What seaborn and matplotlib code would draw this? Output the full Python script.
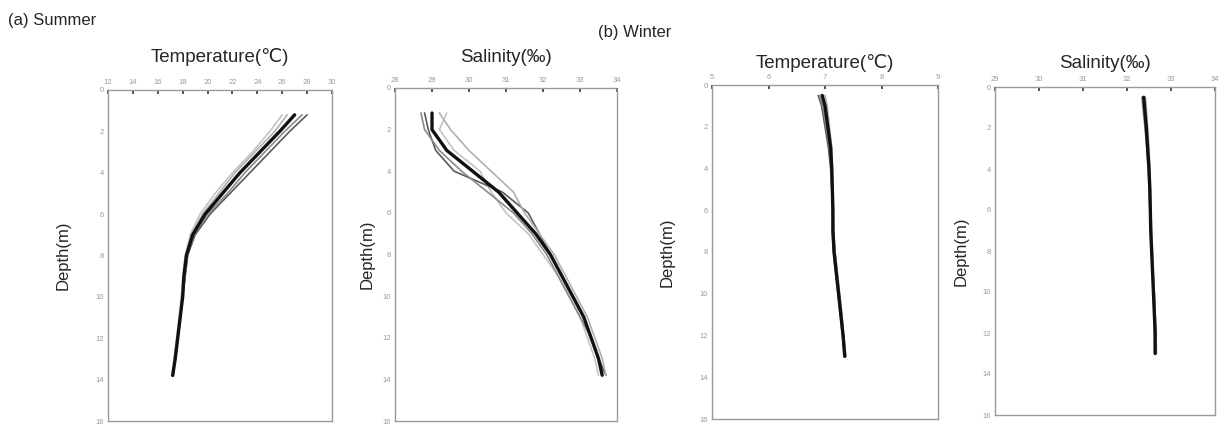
import matplotlib
matplotlib.use("Agg")
import matplotlib.pyplot as plt
import seaborn as sns
import pandas as pd
import numpy as np

# ---------------- data ----------------
depth_summer = [1.2, 2, 3, 4, 5, 6, 7, 8, 9, 10, 11, 12, 13, 13.8]
temp_summer_1 = [27.0, 25.8, 24.2, 22.6, 21.2, 19.8, 18.8, 18.3, 18.1, 18.0, 17.8, 17.6, 17.4, 17.2]
temp_summer_2 = [27.6, 26.2, 24.6, 23.0, 21.6, 20.0, 18.9, 18.4, 18.2, 18.0, 17.8, 17.6, 17.4, 17.2]
temp_summer_3 = [26.4, 25.4, 23.8, 22.2, 20.9, 19.6, 18.7, 18.3, 18.1, 17.9, 17.8, 17.6, 17.4, 17.2]
temp_summer_4 = [28.0, 26.6, 25.0, 23.4, 21.8, 20.2, 19.0, 18.4, 18.2, 18.0, 17.8, 17.6, 17.4, 17.2]
temp_summer_5 = [26.0, 25.0, 23.6, 22.0, 20.6, 19.4, 18.6, 18.2, 18.0, 17.9, 17.7, 17.5, 17.3, 17.1]

sal_summer_1 = [29.0, 29.0, 29.4, 30.1, 30.8, 31.3, 31.8, 32.2, 32.5, 32.8, 33.1, 33.3, 33.5, 33.6]
sal_summer_2 = [28.7, 28.8, 29.2, 29.8, 30.5, 31.2, 31.7, 32.1, 32.4, 32.7, 33.0, 33.3, 33.5, 33.6]
sal_summer_3 = [29.2, 29.5, 30.0, 30.6, 31.2, 31.5, 31.9, 32.3, 32.6, 32.9, 33.2, 33.4, 33.6, 33.7]
sal_summer_4 = [28.8, 28.9, 29.1, 29.6, 30.9, 31.6, 31.9, 32.2, 32.5, 32.8, 33.1, 33.3, 33.5, 33.7]
sal_summer_5 = [29.4, 29.2, 29.6, 30.3, 30.6, 31.0, 31.6, 32.0, 32.4, 32.7, 33.0, 33.2, 33.4, 33.5]

depth_winter = [0.5, 1, 2, 3, 4, 5, 6, 7, 8, 9, 10, 11, 12, 13]
temp_winter_1 = [6.95, 7.00, 7.05, 7.10, 7.12, 7.13, 7.14, 7.14, 7.16, 7.20, 7.24, 7.28, 7.32, 7.35]
temp_winter_2 = [6.90, 6.96, 7.02, 7.08, 7.11, 7.12, 7.13, 7.15, 7.18, 7.22, 7.26, 7.30, 7.33, 7.36]
temp_winter_3 = [7.00, 7.04, 7.08, 7.12, 7.13, 7.14, 7.15, 7.16, 7.17, 7.21, 7.25, 7.29, 7.33, 7.37]
temp_winter_4 = [6.88, 6.94, 7.00, 7.06, 7.10, 7.12, 7.13, 7.13, 7.15, 7.19, 7.23, 7.27, 7.31, 7.34]

sal_winter_1 = [32.38, 32.40, 32.44, 32.47, 32.50, 32.52, 32.53, 32.54, 32.56, 32.58, 32.60, 32.62, 32.64, 32.64]
sal_winter_2 = [32.34, 32.36, 32.41, 32.45, 32.48, 32.50, 32.52, 32.53, 32.55, 32.58, 32.61, 32.63, 32.62, 32.63]
sal_winter_3 = [32.42, 32.44, 32.47, 32.50, 32.52, 32.53, 32.54, 32.56, 32.58, 32.60, 32.62, 32.64, 32.66, 32.67]
sal_winter_4 = [32.36, 32.38, 32.42, 32.46, 32.49, 32.51, 32.52, 32.54, 32.57, 32.59, 32.62, 32.64, 32.65, 32.66]

ticks_temp_summer = [12, 14, 16, 18, 20, 22, 24, 26, 28, 30]
ticks_sal_summer = [28, 29, 30, 31, 32, 33, 34]
ticks_temp_winter = [5, 6, 7, 8, 9]
ticks_sal_winter = [29, 30, 31, 32, 33, 34]
ticks_depth = [0, 2, 4, 6, 8, 10, 12, 14, 16]

# ---------------- style ----------------
sns.set_theme(style="white")
plt.rcParams['font.family'] = ['Liberation Sans', 'DejaVu Sans']

W, H = 1226, 433
fig = plt.figure(figsize=(W / 100, H / 100), dpi=100)


def make_df(depth, series):
    frames = []
    for i, vals in enumerate(series):
        frames.append(pd.DataFrame({"depth": depth, "value": vals, "station": f"s{i+1}"}))
    return pd.concat(frames, ignore_index=True)


def panel(px, title, depth, series, xticks, xlim, title_y, ylabel_x):
    l, r, t, b = px
    ax = fig.add_axes([l / W, 1 - b / H, (r - l) / W, (b - t) / H])
    df = make_df(depth, series)
    n = len(series)
    palette = ["#111111"] + ["#8a8a8a", "#b0b0b0", "#5a5a5a", "#c4c4c4"][: n - 1]
    widths = [2.4] + [1.2] * (n - 1)
    order = [f"s{i+1}" for i in range(n)][::-1]
    for st in order:
        idx = int(st[1:]) - 1
        sns.lineplot(data=df[df.station == st], x="value", y="depth", sort=False,
                     orient="y", color=palette[idx], lw=widths[idx], ax=ax, legend=False)
    ax.set_xlim(*xlim)
    ax.set_ylim(16, 0)
    ax.xaxis.tick_top()
    ax.set_xticks(xticks)
    ax.set_yticks(ticks_depth)
    ax.tick_params(axis="both", direction="in", length=3, width=1.2, color="#333333",
                   labelsize=5.5, labelcolor="#9a9a9a", pad=3)
    ax.set_xlabel("")
    ax.set_ylabel("Depth(m)", fontsize=12)
    ax.yaxis.set_label_coords((ylabel_x + 9 - l) / (r - l), 0.5)
    for s in ax.spines.values():
        s.set_color("#9a9a9a")
        s.set_linewidth(1.0)
        s.set_linestyle((0, (1, 1)))
    fig.text((l + r) / 2 / W, 1 - title_y / H, title, fontsize=13.5, ha="center", va="center")
    return ax


panel((108, 332, 90, 421), "Temperature(\u2103)", depth_summer,
      [temp_summer_1, temp_summer_2, temp_summer_3, temp_summer_4, temp_summer_5],
      ticks_temp_summer, (12, 30), 57, 62)
panel((395, 617, 88, 421), "Salinity(\u2030)", depth_summer,
      [sal_summer_1, sal_summer_2, sal_summer_3, sal_summer_4, sal_summer_5],
      ticks_sal_summer, (28, 34), 57, 366)
panel((712, 938, 85, 419), "Temperature(\u2103)", depth_winter,
      [temp_winter_1, temp_winter_2, temp_winter_3, temp_winter_4],
      ticks_temp_winter, (5, 9), 63, 666)
panel((995, 1215, 87, 415), "Salinity(\u2030)", depth_winter,
      [sal_winter_1, sal_winter_2, sal_winter_3, sal_winter_4],
      ticks_sal_winter, (29, 34), 63, 960)

fig.text(8 / W, 1 - 20 / H, "(a) Summer", fontsize=12, va="center", ha="left")
fig.text(598 / W, 1 - 33 / H, "(b) Winter", fontsize=12, va="center", ha="left")

fig.savefig("out.png", dpi=100)
